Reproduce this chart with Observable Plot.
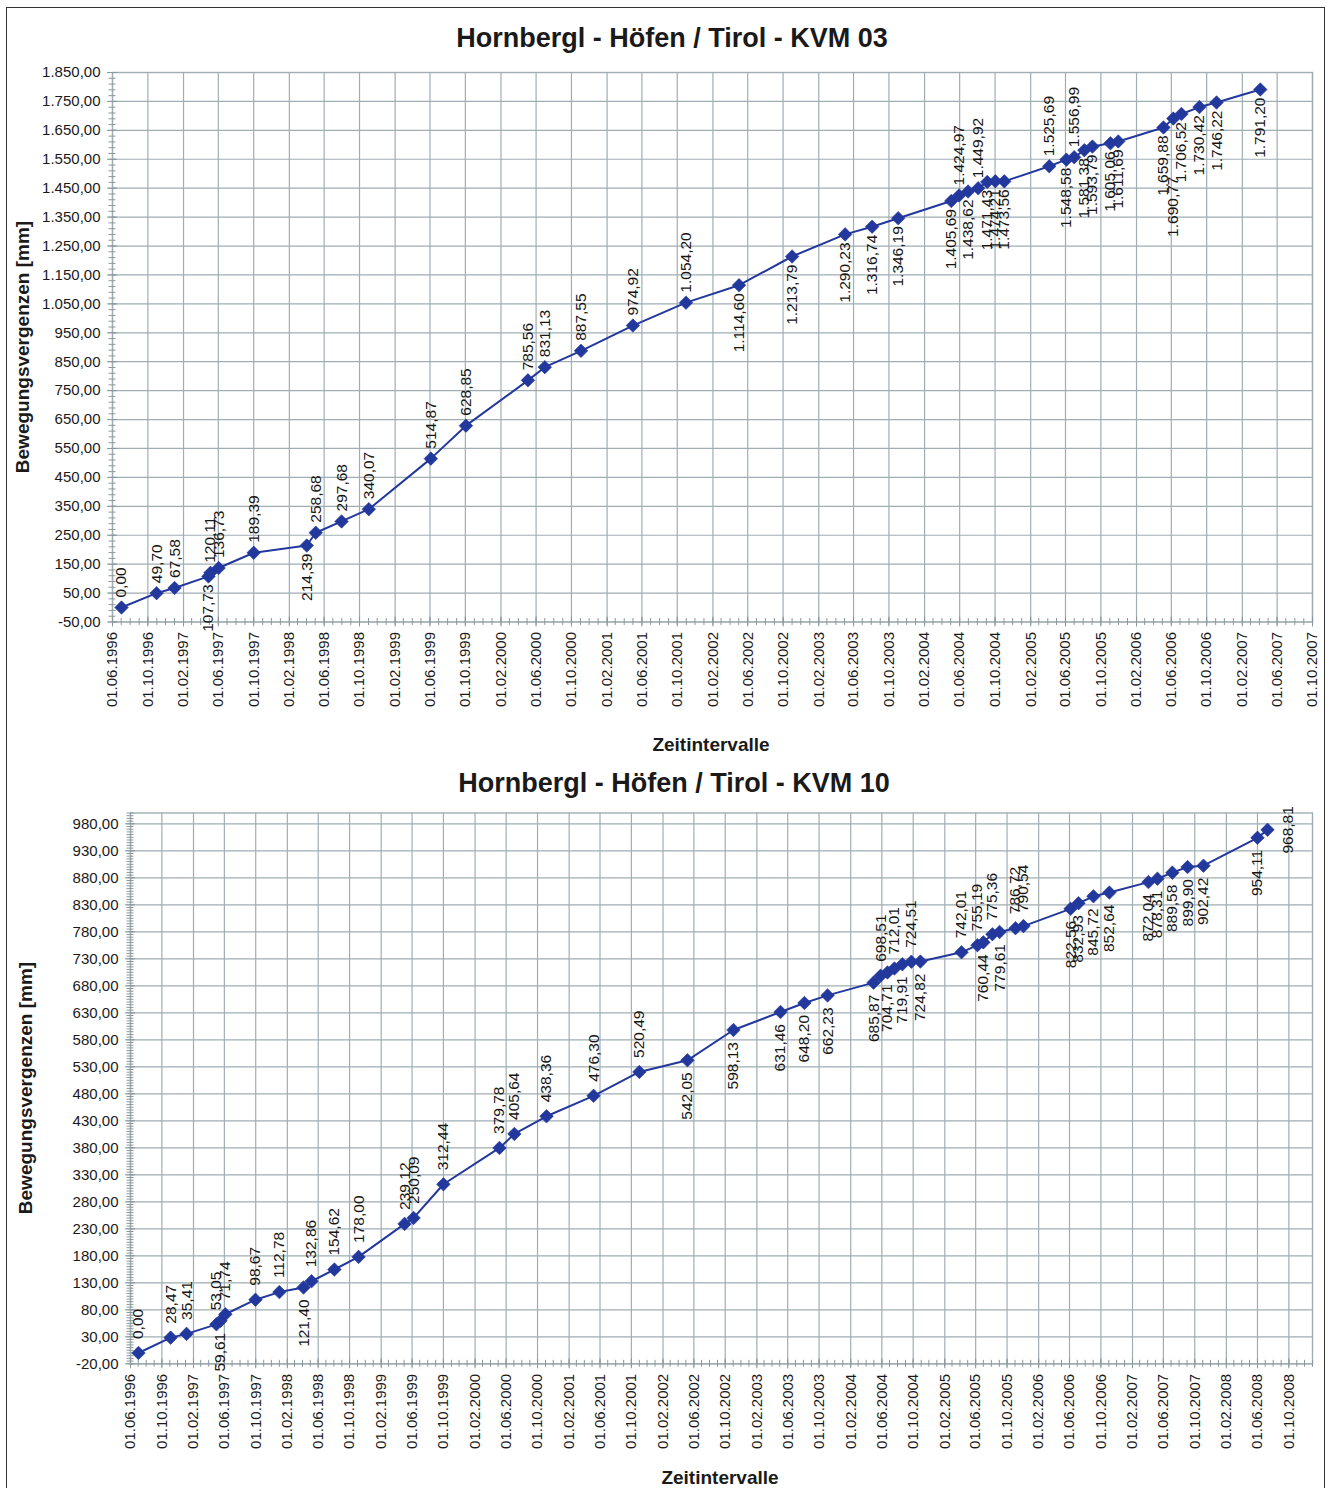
<!DOCTYPE html>
<html>
<head>
<meta charset="utf-8">
<script src="https://cdn.jsdelivr.net/npm/d3@7"></script>
<script src="https://cdn.jsdelivr.net/npm/@observablehq/plot@0.6"></script>
<style>
  html, body { margin: 0; padding: 0; background: #fff; }
  body { font-family: "Liberation Sans", Arial, Helvetica, sans-serif; color: #1a1a1a; }
  #page { position: relative; width: 1330px; height: 1488px; overflow: hidden; background: #fff; }
  #border { position: absolute; left: 6px; top: 7px; width: 1319px; height: 1520px; border: 1.5px solid #333; box-sizing: border-box; }
  .lbl { position: absolute; transform: translate(-50%, -50%); white-space: nowrap; font-weight: bold; line-height: 1; }
  .title { font-size: 27px; }
  .axt { font-size: 19px; }
  .ytitle { transform: translate(-50%, -50%) rotate(-90deg); }
  .chart { position: absolute; left: 0; }
</style>
</head>
<body>
<div id="page">
  <div id="border"></div>
  <div class="lbl title" style="left:672px; top:38px;">Hornbergl - Höfen / Tirol - KVM 03</div>
  <div class="lbl axt ytitle" style="left:22px; top:347px;">Bewegungsvergenzen [mm]</div>
  <div class="lbl axt" style="left:711px; top:744px;">Zeitintervalle</div>
  <div id="chart1" class="chart" style="top:0px;"></div>

  <div class="lbl title" style="left:674px; top:783px;">Hornbergl - Höfen / Tirol - KVM 10</div>
  <div class="lbl axt ytitle" style="left:25px; top:1088px;">Bewegungsvergenzen [mm]</div>
  <div class="lbl axt" style="left:720px; top:1477px;">Zeitintervalle</div>
  <div id="chart2" class="chart" style="top:760px;"></div>
</div>
<script>
// ---------------- DATA ----------------
// KVM 03
const kvm03Dates = ["1996-07-02","1996-10-31","1997-01-01","1997-04-28","1997-05-05","1997-06-02","1997-10-01",
  "1998-04-02","1998-05-03","1998-07-31","1998-11-02","1999-06-04","1999-10-03","2000-05-04","2000-07-01",
  "2000-11-03","2001-05-01","2001-10-31","2002-05-02","2002-11-01","2003-05-03","2003-08-04","2003-11-02",
  "2004-05-03","2004-05-30","2004-06-30","2004-08-04","2004-09-04","2004-10-02","2004-11-02","2005-04-06",
  "2005-06-04","2005-07-01","2005-08-05","2005-09-02","2005-11-03","2005-11-30","2006-05-05","2006-06-08",
  "2006-07-06","2006-09-06","2006-11-04","2007-04-04"];
const kvm03Values = [0.00,49.70,67.58,107.73,120.11,136.73,189.39,
  214.39,258.68,297.68,340.07,514.87,628.85,785.56,831.13,
  887.55,974.92,1054.20,1114.60,1213.79,1290.23,1316.74,1346.19,
  1405.69,1424.97,1438.62,1449.92,1471.43,1474.21,1473.56,1525.69,
  1548.58,1556.99,1581.38,1593.79,1605.06,1611.69,1659.88,1690.77,
  1706.52,1730.42,1746.22,1791.20];
// label placement: a = above, b = below, bb = further below, r = right
const kvm03Placement = ["a","a","a","b","a","a","a",
  "b","a","a","a","a","a","a","a",
  "a","a","a","b","b","b","b","b",
  "b","a","b","a","b","b","b","a",
  "b","a","b","b","b","b","b","bb",
  "b","b","b","b"];

// KVM 10
const kvm10Dates = ["1996-07-02","1996-11-04","1997-01-05","1997-05-01","1997-05-17","1997-06-05","1997-09-30",
  "1998-01-01","1998-04-05","1998-05-06","1998-08-03","1998-11-05","1999-05-03","1999-06-07","1999-10-01",
  "2000-05-06","2000-07-03","2000-11-05","2001-05-07","2001-11-01","2002-05-07","2002-11-02","2003-05-04",
  "2003-08-05","2003-11-03","2004-04-30","2004-05-27","2004-06-23","2004-07-20","2004-08-20","2004-09-24",
  "2004-10-29","2005-04-07","2005-06-08","2005-07-01","2005-08-05","2005-09-02","2005-11-03","2005-12-04",
  "2006-06-05","2006-07-06","2006-09-02","2006-11-03","2007-04-04","2007-05-09","2007-07-06","2007-09-03",
  "2007-11-04","2008-06-01","2008-07-10"];
const kvm10Values = [0.00,28.47,35.41,53.05,59.61,71.74,98.67,
  112.78,121.40,132.86,154.62,178.00,239.12,250.09,312.44,
  379.78,405.64,438.36,476.30,520.49,542.05,598.13,631.46,
  648.20,662.23,685.87,698.51,704.71,712.01,719.91,724.51,
  724.82,742.01,755.19,760.44,775.36,779.61,786.72,790.54,
  822.56,832.93,845.72,852.64,872.04,878.31,889.58,899.90,
  902.42,954.11,968.81];
const kvm10Placement = ["a","a","a","a","b","a","a",
  "a","b","a","a","a","a","a","a",
  "a","a","a","a","a","b","b","b",
  "b","b","b","a","b","a","b","a",
  "b","a","a","b","a","b","a","a",
  "b","b","b","b","b","b","b","b",
  "b","b","r"];

// axis settings
const kvm03XAxis = {start: "1996-06-01", lastTick: "2007-10-01", end: "2007-10-01"};
const kvm03YAxis = {min: -50, max: 1850, lastTick: 1850, step: 100, minor: 20};
const kvm10XAxis = {start: "1996-06-01", lastTick: "2008-10-01", end: "2009-01-01"};
const kvm10YAxis = {min: -20, max: 1000, lastTick: 980, step: 50, minor: 5};

// ---------------- RENDER ----------------
const de = d3.formatLocale({decimal: ",", thousands: ".", grouping: [3], currency: ["", " €"], minus: "-"});
const fmt = de.format(",.2f");
const dateFmt = d3.utcFormat("%d.%m.%Y");
const BLUE = "#22389c";
const GRID = "#a0aeb3";
const TICK = "#8a999e";
const FONT = "'Liberation Sans', Arial, Helvetica, sans-serif";

const diamond = {
  draw(ctx, size) {
    const r = Math.sqrt(size / 2);
    ctx.moveTo(0, -r); ctx.lineTo(r, 0); ctx.lineTo(0, r); ctx.lineTo(-r, 0); ctx.closePath();
  }
};

function makeChart({dates, values, placement, xAxis, yAxis, marginLeft, marginTop, marginBottom, height, gapA, gapB}) {
  const data = dates.map((d, i) => ({date: new Date(d), value: values[i], label: fmt(values[i]), pos: placement[i]}));
  const xs = new Date(xAxis.start), xe = new Date(xAxis.end), xl = new Date(xAxis.lastTick);
  const xMajor = d3.utcMonth.range(xs, new Date(+xl + 1), 4);
  const xMinor = d3.utcMonth.range(xs, new Date(+xe + 1), 1);
  const yMajor = d3.range(yAxis.min, yAxis.lastTick + yAxis.step / 2, yAxis.step);
  const yMinor = d3.range(yAxis.min, yAxis.max + yAxis.minor / 2, yAxis.minor);
  const txt = {x: "date", y: "value", text: "label", rotate: -90, fontSize: 15.5, fill: "#161616"};
  return Plot.plot({
    width: 1330, height, marginLeft, marginRight: 18, marginTop, marginBottom,
    x: {type: "utc", domain: [xs, xe]},
    y: {domain: [yAxis.min, yAxis.max]},
    style: {fontFamily: FONT, color: "#1a1a1a", overflow: "visible", background: "transparent"},
    marks: [
      Plot.gridX(xMajor, {stroke: GRID, strokeOpacity: 1, strokeWidth: 1.2}),
      Plot.gridY(yMajor, {stroke: GRID, strokeOpacity: 1, strokeWidth: 1.2}),
      Plot.frame({stroke: GRID, strokeWidth: 1.4}),
      Plot.ruleY(yMinor, {x1: () => xs, x2: () => xs, insetLeft: -3.5, insetRight: -3.5, stroke: TICK}),
      Plot.ruleY(yMajor, {x1: () => xs, x2: () => xs, insetLeft: -5, insetRight: -5, stroke: TICK}),
      Plot.ruleX(xMinor, {y1: () => yAxis.min, y2: () => yAxis.min, insetTop: -3.5, insetBottom: -3.5, stroke: TICK}),
      Plot.ruleX(xMajor, {y1: () => yAxis.min, y2: () => yAxis.min, insetTop: -5, insetBottom: -5, stroke: TICK}),
      Plot.axisY({ticks: yMajor, tickFormat: fmt, tickSize: 0, tickPadding: 12, fontSize: 15, label: null}),
      Plot.axisX({ticks: xMajor, tickFormat: dateFmt, tickRotate: -90, tickSize: 0, tickPadding: 10, fontSize: 15, label: null}),
      Plot.line(data, {x: "date", y: "value", stroke: BLUE, strokeWidth: 2}),
      Plot.dot(data, {x: "date", y: "value", symbol: diamond, r: 5.4, fill: BLUE, stroke: BLUE, strokeWidth: 0.6}),
      Plot.text(data.filter(d => d.pos === "a"), {...txt, textAnchor: "start", dy: -gapA}),
      Plot.text(data.filter(d => d.pos === "b"), {...txt, textAnchor: "end", dy: gapB}),
      Plot.text(data.filter(d => d.pos === "bb"), {...txt, textAnchor: "end", dy: gapB + 50}),
      Plot.text(data.filter(d => d.pos === "r"), {...txt, textAnchor: "middle", dx: 21})
    ]
  });
}

document.getElementById("chart1").append(makeChart({
  dates: kvm03Dates, values: kvm03Values, placement: kvm03Placement,
  xAxis: kvm03XAxis, yAxis: kvm03YAxis,
  marginLeft: 112, marginTop: 72, marginBottom: 100.5, height: 722, gapA: 10, gapB: 8
}));
document.getElementById("chart2").append(makeChart({
  dates: kvm10Dates, values: kvm10Values, placement: kvm10Placement,
  xAxis: kvm10XAxis, yAxis: kvm10YAxis,
  marginLeft: 130, marginTop: 52.5, marginBottom: 124.7, height: 728, gapA: 14, gapB: 12
}));
</script>
</body>
</html>
